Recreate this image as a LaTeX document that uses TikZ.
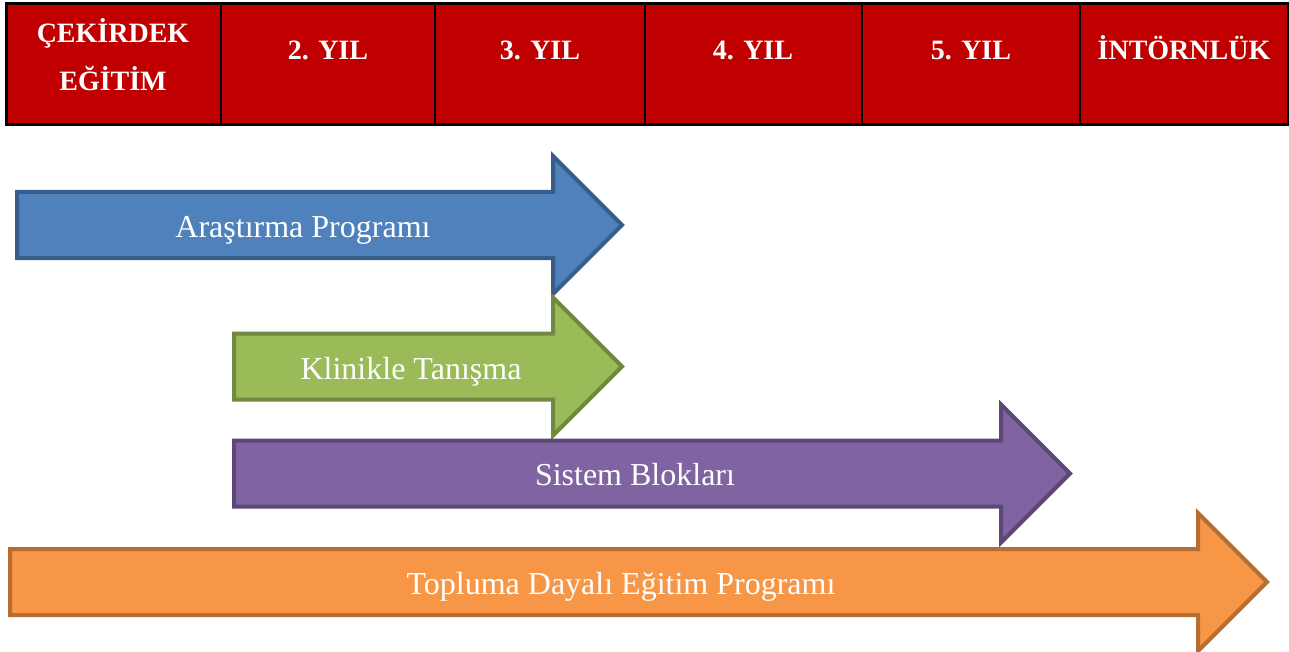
\documentclass[tikz,border=0pt]{standalone}
\usepackage{fontspec}
\setmainfont{Liberation Serif}

\definecolor{headred}{HTML}{C00000}
\definecolor{arblue}{HTML}{4F81BD}
\definecolor{arblueline}{HTML}{385D8A}
\definecolor{argreen}{HTML}{9BBB59}
\definecolor{argreenline}{HTML}{71893F}
\definecolor{arpurple}{HTML}{8064A2}
\definecolor{arpurpleline}{HTML}{5C4776}
\definecolor{arorange}{HTML}{F79646}
\definecolor{arorangeline}{HTML}{B66D31}

% block arrow: fill, line, left x, head x, centre y
\newcommand{\progarrow}[5]{%
  \draw[#2, fill=#1, line width=2pt, line join=miter]
    (#3,#5-33) -- (#4,#5-33) -- (#4,#5-69) -- (#4+69,#5)
    -- (#4,#5+69) -- (#4,#5+33) -- (#3,#5+33) -- cycle;}

\begin{document}
\begin{tikzpicture}[x=0.5pt,y=-0.5pt,
    hdr/.style={text=white, anchor=base, font=\fontsize{14}{17}\selectfont\bfseries},
    lbl/.style={text=white, anchor=base, font=\fontsize{16}{19}\selectfont}]
  \useasboundingbox (0,0) rectangle (1289,652);

  % year table
  \fill[headred] (6,4) rectangle (1288,125);
  \foreach \x in {221,435,645,862,1080}
    \draw[line width=1.2pt] (\x,4) -- (\x,125);
  \draw[line width=1.5pt] (6,4) rectangle (1288,125);

  \node[hdr] (cekirdek) at (113,43) {ÇEKİRDEK};
  \node[hdr] (egitim) at (113,91) {EĞİTİM};
  \node[hdr] (yil2) at (328,60) {2. YIL};
  \node[hdr] (yil3) at (540,60) {3. YIL};
  \node[hdr] (yil4) at (753,60) {4. YIL};
  \node[hdr] (yil5) at (971,60) {5. YIL};
  \node[hdr] (intorn) at (1184,60) {İNTÖRNLÜK};

  % programme arrows
  \progarrow{arblue}{arblueline}{17}{553}{225}
  \progarrow{argreen}{argreenline}{234}{553}{366.5}
  \progarrow{arpurple}{arpurpleline}{234}{1001}{473.5}
  \progarrow{arorange}{arorangeline}{10}{1198}{582}

  \node[lbl] (arastirma) at (303,237) {Araştırma Programı};
  \node[lbl] (klinik) at (411,379) {Klinikle Tanışma};
  \node[lbl] (sistem) at (635,485) {Sistem Blokları};
  \node[lbl] (toplum) at (621,594) {Topluma Dayalı Eğitim Programı};
\end{tikzpicture}
\end{document}
